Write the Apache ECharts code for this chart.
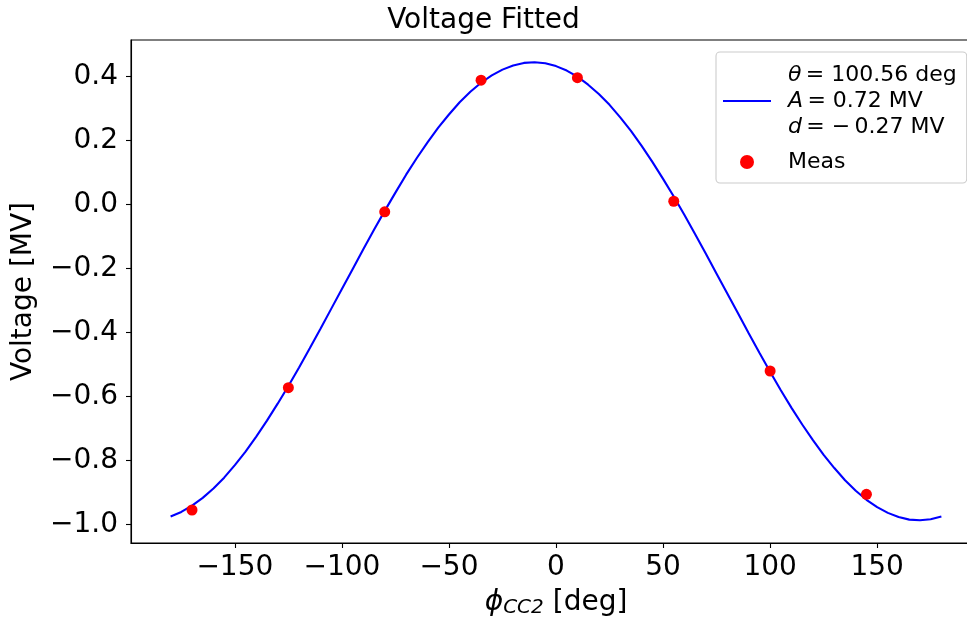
<!DOCTYPE html>
<html><head><meta charset="utf-8">
<script src="https://cdn.jsdelivr.net/npm/echarts@6/dist/echarts.min.js"></script>
<style>html,body{margin:0;padding:0;background:#fff}#c{width:967px;height:620px}</style>
</head><body><div id="c"></div>
<script>
// ---- data ----
const fitPhi = [-180,-175,-170,-165,-160,-155,-150,-145,-140,-135,-130,-125,-120,-115,-110,-105,-100,-95,-90,-85,-80,-75,-70,-65,-60,-55,-50,-45,-40,-35,-30,-25,-20,-15,-10,-5,0,5,10,15,20,25,30,35,40,45,50,55,60,65,70,75,80,85,90,95,100,105,110,115,120,125,130,135,140,145,150,155,160,165,170,175,180];
const fitVolt = [-0.974,-0.960,-0.940,-0.916,-0.887,-0.853,-0.814,-0.772,-0.725,-0.675,-0.622,-0.567,-0.509,-0.449,-0.388,-0.326,-0.264,-0.202,-0.140,-0.079,-0.020,0.037,0.093,0.145,0.194,0.240,0.281,0.319,0.352,0.380,0.403,0.421,0.434,0.442,0.444,0.441,0.432,0.418,0.399,0.374,0.345,0.311,0.272,0.230,0.183,0.133,0.080,0.025,-0.033,-0.093,-0.154,-0.216,-0.278,-0.340,-0.402,-0.463,-0.522,-0.580,-0.635,-0.687,-0.736,-0.782,-0.823,-0.861,-0.894,-0.922,-0.945,-0.963,-0.976,-0.984,-0.986,-0.983,-0.974];
const measPhi = [-170,-125,-80,-35,10,55,100,145];
const measVolt = [-0.954,-0.572,-0.023,0.388,0.396,0.010,-0.520,-0.905];
const xTicks = [-150,-100,-50,0,50,100,150];
const yTicks = [-1.0,-0.8,-0.6,-0.4,-0.2,0.0,0.2,0.4];
const fitSymbols = ['θ','A','d'];
const fitValues = ['100.56 deg','0.72 MV','−\u20090.27 MV'];
const titleText = 'Voltage Fitted';
const yName = 'Voltage [MV]';
const measName = 'Meas';

const FONT = 'DejaVu Sans';
const minus = s => s.replace('-', '−');
const fmtX = v => minus(String(Math.round(v)));
const fmtY = v => { const r = Math.round(v*10)/10; return (r < 0 ? '−' : '') + Math.abs(r).toFixed(1); };

const chart = echarts.init(document.getElementById('c'), null, {renderer:'canvas'});
chart.setOption({
  animation:false,
  backgroundColor:'#fff',
  title:{text:titleText,left:'center',top:7,padding:0,
    textStyle:{fontFamily:FONT,fontSize:28,fontWeight:'normal',color:'#000'}},
  grid:{left:131,top:40,width:850,height:503,show:true,borderColor:'#000',borderWidth:1.1,
    backgroundColor:'transparent',containLabel:false,outerBoundsMode:'none'},
  xAxis:{type:'value',min:-198.5,max:198.5,
    name:'{p|ϕ}{s|CC2}{n| [deg]}',nameLocation:'middle',nameGap:45,
    nameTextStyle:{fontFamily:FONT,color:'#000',rich:{
      p:{fontFamily:FONT,fontSize:28,fontStyle:'italic',color:'#000',lineHeight:30},
      s:{fontFamily:FONT,fontSize:20,fontStyle:'italic',color:'#000',verticalAlign:'bottom',lineHeight:14},
      n:{fontFamily:FONT,fontSize:28,color:'#000',lineHeight:30}}},
    axisLine:{onZero:false,lineStyle:{color:'#000',width:1.1}},
    axisTick:{length:5,lineStyle:{color:'#000',width:1.1},customValues:xTicks},
    axisLabel:{fontFamily:FONT,fontSize:28,color:'#000',margin:11,formatter:fmtX,customValues:xTicks},
    splitLine:{show:false}},
  yAxis:{type:'value',min:-1.057,max:0.5135,
    name:yName,nameLocation:'middle',nameGap:93,
    nameTextStyle:{fontFamily:FONT,fontSize:28,color:'#000'},
    axisLine:{onZero:false,lineStyle:{color:'#000',width:1.1}},
    axisTick:{length:5,lineStyle:{color:'#000',width:1.1},customValues:yTicks},
    axisLabel:{fontFamily:FONT,fontSize:28,color:'#000',margin:13,formatter:fmtY,customValues:yTicks},
    splitLine:{show:false}},
  legend:{orient:'vertical',left:716,top:52,padding:[10,10,8,7],itemGap:9,
    itemWidth:48,itemHeight:14,symbolKeepAspect:true,
    backgroundColor:'rgba(255,255,255,0.8)',borderColor:'#cccccc',borderWidth:1.1,borderRadius:4,
    data:[{name:'fit',icon:'path://M0,0H48V2.1H0Z'},{name:measName,icon:'circle'}],
    formatter:function(name){
      if(name==='fit'){
        return fitSymbols.map((s,i)=>'{i|'+s+'}\u2009= '+fitValues[i]).join('\n');
      }
      return name;
    },
    textStyle:{fontFamily:FONT,fontSize:22,color:'#000',lineHeight:26,padding:[0,0,0,12],
      rich:{i:{fontFamily:FONT,fontSize:22,fontStyle:'italic',color:'#000',lineHeight:26}}}},
  series:[
    {name:'fit',type:'line',data:fitPhi.map((x,i)=>[x,fitVolt[i]]),smooth:false,symbol:'none',
      lineStyle:{color:'#0000ff',width:2.1},itemStyle:{color:'#0000ff'},z:2},
    {name:measName,type:'scatter',data:measPhi.map((x,i)=>[x,measVolt[i]]),symbol:'circle',symbolSize:11,
      itemStyle:{color:'#ff0000',opacity:1},z:3}
  ]
});
</script></body></html>
